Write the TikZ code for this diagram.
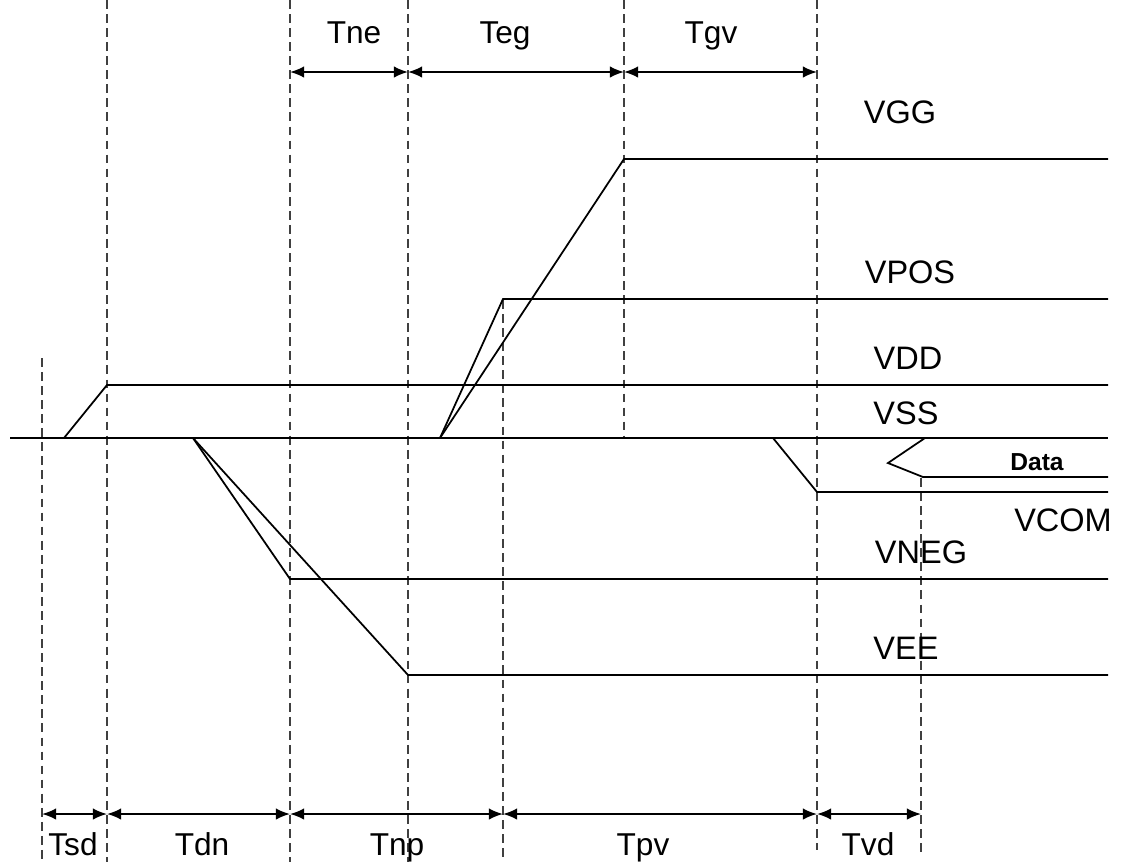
\documentclass[tikz,border=0pt]{standalone}
\usepackage{fontspec}
\setmainfont{Liberation Sans}
\usetikzlibrary{arrows.meta}

\begin{document}
\begin{tikzpicture}[x=0.02cm,y=-0.02cm,
    sig/.style={line width=1pt},
    guide/.style={line width=0.9pt,color=black!75,dash pattern=on 5pt off 3pt},
    span/.style={line width=1pt,{Latex[length=8pt,width=6.5pt]}-{Latex[length=8pt,width=6.5pt]}},
    lbl/.style={anchor=base,inner sep=0pt,font=\fontsize{18.5}{20}\selectfont},
    tlbl/.style={anchor=base,inner sep=0pt,font=\fontsize{18}{20}\selectfont}]
    \useasboundingbox (0,0) rectangle (1123,866);

    % Draw guide lines
    \draw[guide] (42,358) -- (42,862);
    \draw[guide] (107,0) -- (107,862);
    \draw[guide] (290,0) -- (290,862);
    \draw[guide] (408,0) -- (408,862);
    \draw[guide] (503,300) -- (503,862);
    \draw[guide] (624,0) -- (624,436);
    \draw[guide] (817,0) -- (817,850);
    \draw[guide] (921,478) -- (921,852);

    % Draw supply rails
    \draw[sig] (10,438) -- (1108,438);
    \draw[sig] (64,438) -- (107,385) -- (1108,385);
    \draw[sig] (440,438) -- (624,159) -- (1108,159);
    \draw[sig] (440,438) -- (503,299) -- (1108,299);
    \draw[sig] (193,438) -- (290,579) -- (1108,579);
    \draw[sig] (193,438) -- (408,675) -- (1108,675);
    \draw[sig] (773,438) -- (817,492) -- (1108,492);
    \draw[sig] (925,438) -- (888,463) -- (923,477) -- (1108,477);

    % Rail labels
    \node[lbl] (vgg) at (900,123) {VGG};
    \node[lbl] (vpos) at (910,283) {VPOS};
    \node[lbl] (vdd) at (908,369) {VDD};
    \node[lbl] (vss) at (906,424) {VSS};
    \node[anchor=base,inner sep=0pt,font=\fontsize{14}{16}\selectfont\bfseries] (data) at (1037,470) {Data};
    \node[lbl] (vcom) at (1063,531) {VCOM};
    \node[lbl] (vneg) at (921,563) {VNEG};
    \node[lbl] (vee) at (906,659) {VEE};

    % Top intervals
    \coordinate (ta) at (290,72);
    \coordinate (tb) at (408,72);
    \coordinate (tc) at (624,72);
    \coordinate (td) at (817,72);
    \draw[span] (ta) -- (tb);
    \draw[span] (tb) -- (tc);
    \draw[span] (tc) -- (td);
    \node[tlbl] (tne) at (354,43) {Tne};
    \node[tlbl] (teg) at (505,43) {Teg};
    \node[tlbl] (tgv) at (711,43) {Tgv};

    % Bottom intervals
    \coordinate (ba) at (42,814);
    \coordinate (bb) at (107,814);
    \coordinate (bc) at (290,814);
    \coordinate (bd) at (503,814);
    \coordinate (be) at (817,814);
    \coordinate (bf) at (921,814);
    \draw[span] (ba) -- (bb);
    \draw[span] (bb) -- (bc);
    \draw[span] (bc) -- (bd);
    \draw[span] (bd) -- (be);
    \draw[span] (be) -- (bf);
    \node[tlbl] (tsd) at (73,855) {Tsd};
    \node[tlbl] (tdn) at (202,855) {Tdn};
    \node[tlbl] (tnp) at (397,855) {Tnp};
    \node[tlbl] (tpv) at (643,855) {Tpv};
    \node[tlbl] (tvd) at (868,855) {Tvd};

\end{tikzpicture}
\end{document}
